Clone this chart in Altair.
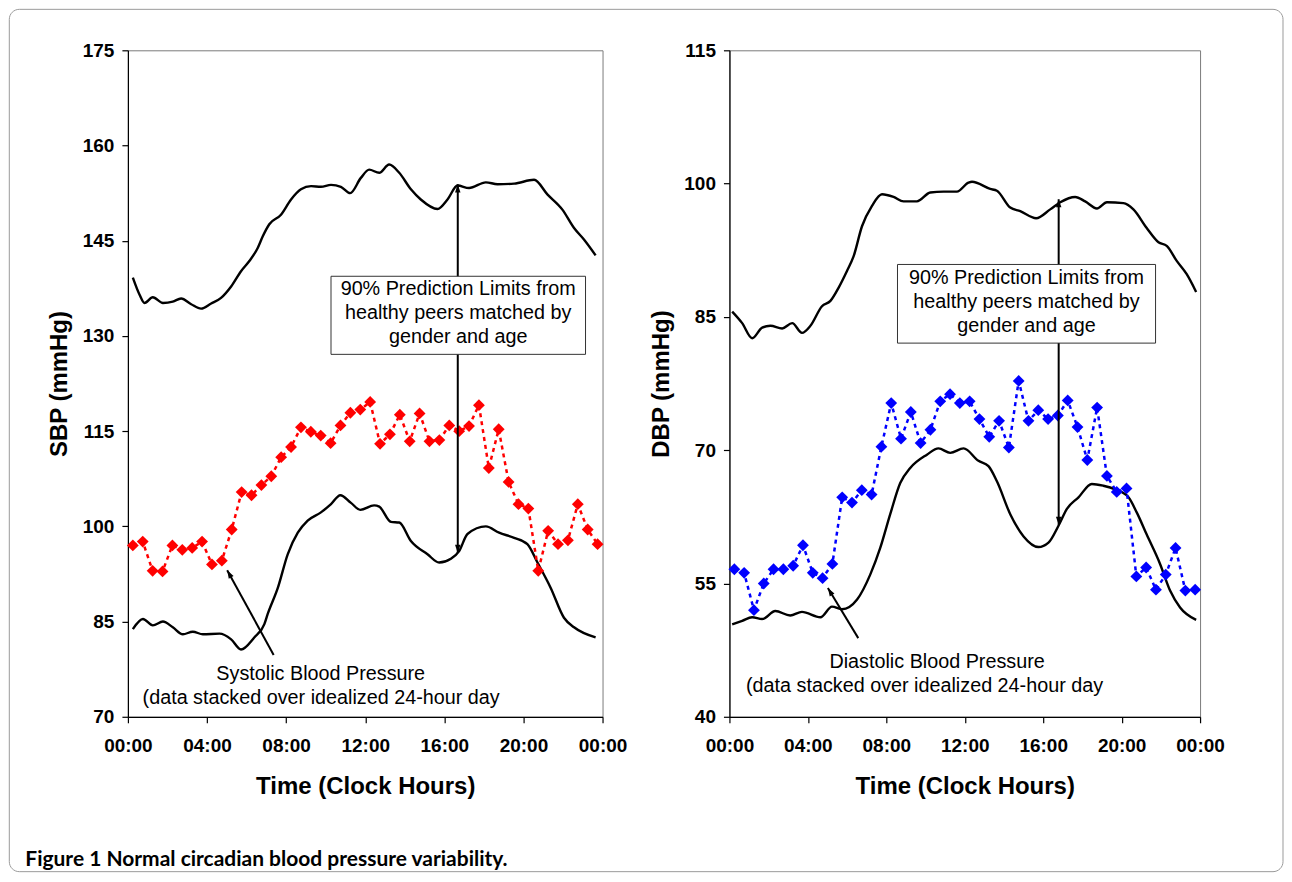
import json
import altair as alt
import pandas as pd

# ---------------- data ----------------
point_hours = [0.25, 0.75, 1.25, 1.75, 2.25, 2.75, 3.25, 3.75, 4.25, 4.75, 5.25, 5.75,
               6.25, 6.75, 7.25, 7.75, 8.25, 8.75, 9.25, 9.75, 10.25, 10.75, 11.25, 11.75,
               12.25, 12.75, 13.25, 13.75, 14.25, 14.75, 15.25, 15.75, 16.25, 16.75, 17.25, 17.75,
               18.25, 18.75, 19.25, 19.75, 20.25, 20.75, 21.25, 21.75, 22.25, 22.75, 23.25, 23.75]

sbp_values = [97.0, 97.6, 93.0, 92.9, 97.0, 96.3, 96.6, 97.6, 94.0, 94.6, 99.5, 105.4,
              104.9, 106.5, 107.9, 110.9, 112.5, 115.6, 114.9, 114.3, 113.1, 115.9, 117.9, 118.4,
              119.6, 113.0, 114.5, 117.6, 113.4, 117.8, 113.4, 113.6, 115.9, 115.0, 115.8, 119.1,
              109.2, 115.3, 107.0, 103.5, 102.8, 93.0, 99.3, 97.2, 97.8, 103.5, 99.5, 97.2]

dbp_values = [56.6, 56.2, 52.0, 55.0, 56.6, 56.6, 57.0, 59.3, 56.2, 55.6, 57.2, 64.7,
              64.1, 65.5, 65.0, 70.4, 75.3, 71.3, 74.3, 70.8, 72.3, 75.5, 76.3, 75.3,
              75.5, 73.5, 71.5, 73.3, 70.3, 77.8, 73.3, 74.5, 73.5, 73.9, 75.6, 72.6,
              68.9, 74.8, 67.1, 65.3, 65.7, 55.8, 56.8, 54.3, 56.0, 59.0, 54.2, 54.3]

sbp_upper_hours = [0.25, 0.59, 0.84, 1.26, 1.77, 2.27, 2.69, 3.20, 3.70, 4.21, 4.71, 5.22,
                   5.72, 6.14, 6.57, 6.82, 7.15, 7.74, 8.25, 8.75, 9.26, 9.76, 10.27, 10.77,
                   11.24, 11.78, 12.20, 12.71, 13.21, 13.72, 14.31, 14.81, 15.66, 16.16, 16.67, 17.25,
                   18.10, 18.69, 19.53, 20.54, 21.21, 21.97, 22.56, 23.06, 23.65]
sbp_upper = [139.2, 136.5, 135.2, 136.1, 135.2, 135.4, 135.9, 135.0, 134.3, 135.1, 136.0, 137.8,
             140.2, 141.8, 143.9, 145.7, 147.6, 149.1, 151.5, 153.1, 153.6, 153.5, 153.8, 153.5,
             152.5, 154.9, 156.2, 155.7, 157.0, 155.7, 153.1, 151.5, 150.0, 151.5, 153.7, 153.3,
             154.2, 153.9, 154.0, 154.6, 152.3, 149.9, 147.0, 145.2, 142.7]

sbp_lower_hours = [0.25, 0.76, 1.26, 1.77, 2.27, 2.78, 3.28, 3.79, 4.63, 5.22, 5.72, 6.39,
                   6.90, 7.07, 7.58, 8.08, 8.59, 9.09, 9.76, 10.27, 10.74, 11.28, 11.75, 12.45,
                   12.71, 13.30, 13.72, 14.31, 15.15, 15.74, 16.33, 16.75, 17.17, 18.10, 18.77, 19.53,
                   20.20, 20.71, 21.38, 22.05, 22.56, 23.65]
sbp_lower = [83.8, 85.4, 84.4, 85.0, 84.1, 83.0, 83.4, 83.0, 83.1, 82.2, 80.6, 82.5,
             84.6, 86.2, 90.3, 95.6, 99.0, 100.9, 102.2, 103.5, 104.9, 103.7, 102.6, 103.3,
             103.1, 100.7, 100.6, 97.7, 95.6, 94.3, 94.9, 96.1, 98.8, 100.0, 99.0, 98.2,
             97.2, 94.3, 90.3, 85.6, 84.1, 82.5]

dbp_upper_hours = [0.14, 0.65, 1.16, 1.67, 2.09, 2.69, 3.20, 3.70, 4.13, 4.72, 5.15, 5.57,
                   6.00, 6.33, 6.76, 7.27, 7.78, 8.37, 8.88, 9.56, 10.24, 10.92, 11.60, 12.19,
                   12.37, 13.30, 13.64, 14.32, 14.83, 15.64, 16.36, 16.87, 17.63, 18.14, 18.74, 19.25,
                   20.09, 20.60, 21.28, 21.88, 22.30, 22.81, 23.32, 23.80]
dbp_upper = [85.6, 84.3, 82.6, 83.8, 84.0, 83.7, 84.3, 83.2, 84.0, 86.2, 86.8, 88.3,
             90.2, 91.8, 95.2, 97.5, 98.8, 98.5, 98.0, 98.0, 99.0, 99.1, 99.1, 100.1,
             100.2, 99.4, 99.2, 97.3, 96.9, 96.1, 97.1, 97.9, 98.5, 98.0, 97.2, 97.9,
             97.8, 97.1, 95.0, 93.4, 93.0, 91.3, 89.8, 87.8]

dbp_lower_hours = [0.14, 0.65, 1.16, 1.67, 2.34, 3.10, 3.70, 4.64, 5.23, 5.74, 6.51, 7.18,
                   7.69, 8.20, 8.71, 9.22, 10.07, 10.66, 11.26, 11.94, 12.70, 13.21, 13.64, 14.32,
                   15.00, 15.76, 16.27, 16.78, 17.21, 17.80, 18.48, 19.07, 19.67, 20.35, 20.77, 21.28,
                   21.96, 22.47, 22.98, 23.80]
dbp_lower = [50.4, 50.8, 51.2, 51.0, 51.9, 51.4, 51.8, 51.2, 52.4, 52.1, 53.2, 56.0,
             59.0, 62.8, 66.3, 68.0, 69.5, 70.2, 69.7, 70.2, 68.8, 68.2, 66.5, 62.8,
             60.3, 59.1, 59.6, 61.5, 63.4, 64.7, 66.2, 66.0, 65.6, 64.7, 63.0, 60.5,
             57.2, 54.2, 52.3, 50.9]

tick_hours = [0, 4, 8, 12, 16, 20, 24]
tick_labels = ["00:00", "04:00", "08:00", "12:00", "16:00", "20:00", "00:00"]
sbp_ticks = [70, 85, 100, 115, 130, 145, 160, 175]
dbp_ticks = [40, 55, 70, 85, 100, 115]

box_text = "90% Prediction Limits from\nhealthy peers matched by\ngender and age"
sbp_note = ["Systolic Blood Pressure", "(data stacked over idealized 24-hour day"]
dbp_note = ["Diastolic Blood Pressure", "(data stacked over idealized 24-hour day"]
caption = "Figure 1 Normal circadian blood pressure variability."

# annotation anchors (data units); box text y = first line
sbp_box = dict(x=10.27, x2=23.14, y=139.4, y2=127.1, tx=16.7, ty=137.4)
sbp_varrow = dict(x=16.68, top=153.9, bottom=95.8)
sbp_darrow = dict(x=7.37, y=79.75, x2=5.02, y2=93.1, angle=331)
sbp_note_pos = [(9.75, 76.8), (9.77, 73.0)]

dbp_box = dict(x=8.57, x2=21.73, y=90.9, y2=82.05, tx=15.15, ty=89.4)
dbp_varrow = dict(x=16.79, top=98.25, bottom=61.6)
dbp_darrow = dict(x=6.57, y=48.85, x2=5.02, y2=54.5, angle=329)
dbp_note_pos = [(10.59, 46.2), (9.95, 43.5)]

FONT = "Liberation Sans"
ARROW = "M0,0L-1,3L1,3Z"
label_expr = f"{json.dumps(tick_labels)}[indexof({json.dumps(tick_hours)}, datum.value)]"


def panel(width, height, pts, color, up_h, up_v, lo_h, lo_v, ydom, yticks, ytitle,
          box, varrow, darrow, note, note_pos, extra=None):
    xs = alt.Scale(domain=[0, 24], nice=False, zero=False)
    ys = alt.Scale(domain=ydom, nice=False, zero=False)
    x_axis = alt.Axis(values=tick_hours, labelExpr=label_expr, title="Time (Clock Hours)",
                      labelPadding=14, titleX=width / 2, titleY=70, titleBaseline="middle",
                      labelFlush=False)
    y_axis = alt.Axis(values=yticks, title=ytitle, labelPadding=8, titleAngle=270,
                      titleX=-68, titleY=height / 2, titleBaseline="middle", titleAlign="center")
    X = lambda: alt.X("h:Q", scale=xs, axis=x_axis, title="Time (Clock Hours)")
    Y = lambda: alt.Y("v:Q", scale=ys, axis=y_axis, title=ytitle)

    up = alt.Chart(pd.DataFrame({"h": up_h, "v": up_v})).mark_line(
        color="black", strokeWidth=2.4, interpolate="monotone").encode(x=X(), y=Y())
    lo = alt.Chart(pd.DataFrame({"h": lo_h, "v": lo_v})).mark_line(
        color="black", strokeWidth=2.4, interpolate="monotone").encode(x=X(), y=Y())
    pdf = pd.DataFrame({"h": point_hours, "v": pts})
    dline = alt.Chart(pdf).mark_line(color=color, strokeWidth=2.5, strokeDash=[4, 4]).encode(x=X(), y=Y())
    dots = alt.Chart(pdf).mark_point(shape="diamond", filled=True, opacity=1, size=140,
                                     color=color).encode(x=X(), y=Y())

    vr = alt.Chart(pd.DataFrame({"h": [varrow["x"]], "v": [varrow["top"]], "v2": [varrow["bottom"]]})).mark_rule(
        color="black", strokeWidth=2).encode(x=X(), y=Y(), y2="v2:Q")
    vheads = alt.Chart(pd.DataFrame({"h": [varrow["x"], varrow["x"]],
                                     "v": [varrow["top"], varrow["bottom"]],
                                     "a": [0, 180]})).mark_point(
        shape=ARROW, filled=True, color="black", opacity=1, size=30).encode(
        x=X(), y=Y(), angle=alt.Angle("a:Q", scale=None))
    dr = alt.Chart(pd.DataFrame({"h": [darrow["x"]], "v": [darrow["y"]],
                                 "h2": [darrow["x2"]], "v2": [darrow["y2"]]})).mark_rule(
        color="black", strokeWidth=2).encode(x=X(), y=Y(), x2="h2:Q", y2="v2:Q")
    dhead = alt.Chart(pd.DataFrame({"h": [darrow["x2"]], "v": [darrow["y2"]],
                                    "a": [darrow["angle"]]})).mark_point(
        shape=ARROW, filled=True, color="black", opacity=1, size=30).encode(
        x=X(), y=Y(), angle=alt.Angle("a:Q", scale=None))

    rect = alt.Chart(pd.DataFrame({"h": [box["x"]], "h2": [box["x2"]],
                                   "v": [box["y"]], "v2": [box["y2"]]})).mark_rect(
        fill="white", stroke="#333333", strokeWidth=1).encode(x=X(), x2="h2:Q", y=Y(), y2="v2:Q")
    btxt = alt.Chart(pd.DataFrame({"h": [box["tx"]], "v": [box["ty"]], "t": [box_text]})).mark_text(
        font=FONT, fontSize=19.8, lineBreak="\n", lineHeight=24, align="center",
        baseline="middle", color="black").encode(x=X(), y=Y(), text="t:N")
    ntxt = alt.Chart(pd.DataFrame({"h": [p[0] for p in note_pos], "v": [p[1] for p in note_pos],
                                   "t": note})).mark_text(
        font=FONT, fontSize=19.8, align="center", baseline="middle", color="black").encode(
        x=X(), y=Y(), text="t:N")

    layers = [up, lo, dline, dots, vr, vheads, dr, dhead, rect, btxt, ntxt]
    if extra:
        layers = extra + layers
    return alt.layer(*layers).properties(width=width, height=height)


one = pd.DataFrame({"a": [0]})
frame = alt.Chart(one).mark_rect(filled=False, stroke="#9a9a9a", strokeWidth=1, cornerRadius=10).encode(
    x=alt.value(-118.7), x2=alt.value(1156), y=alt.value(-41), y2=alt.value(822))
cap = alt.Chart(one).mark_text(align="left", baseline="alphabetic", font="Lato", fontSize=21,
                               fontWeight="bold", color="black").encode(
    x=alt.value(-102.7), y=alt.value(816), text=alt.value(caption))

left = panel(475, 667, sbp_values, "#ff0000", sbp_upper_hours, sbp_upper, sbp_lower_hours, sbp_lower,
             [70, 175], sbp_ticks, "SBP (mmHg)", sbp_box, sbp_varrow, sbp_darrow, sbp_note, sbp_note_pos,
             extra=[frame, cap])
right = panel(471, 667, dbp_values, "#0000ff", dbp_upper_hours, dbp_upper, dbp_lower_hours, dbp_lower,
              [40, 115], dbp_ticks, "DBP (mmHg)", dbp_box, dbp_varrow, dbp_darrow, dbp_note, dbp_note_pos)

chart = alt.hconcat(left, right, spacing=127, bounds="flush").properties(
    padding=0, background="white"
).configure_view(stroke="#7a7a7a", strokeWidth=1).configure_axis(
    domainColor="black", domainWidth=1.2, tickColor="black", tickWidth=1.2, tickSize=6,
    labelFont=FONT, labelFontSize=19, labelFontWeight="bold", labelColor="black",
    titleFont=FONT, titleFontSize=24, titleFontWeight="bold", titleColor="black", grid=False
)

chart.save("out.html", embed_options={"renderer": "svg", "actions": False})
